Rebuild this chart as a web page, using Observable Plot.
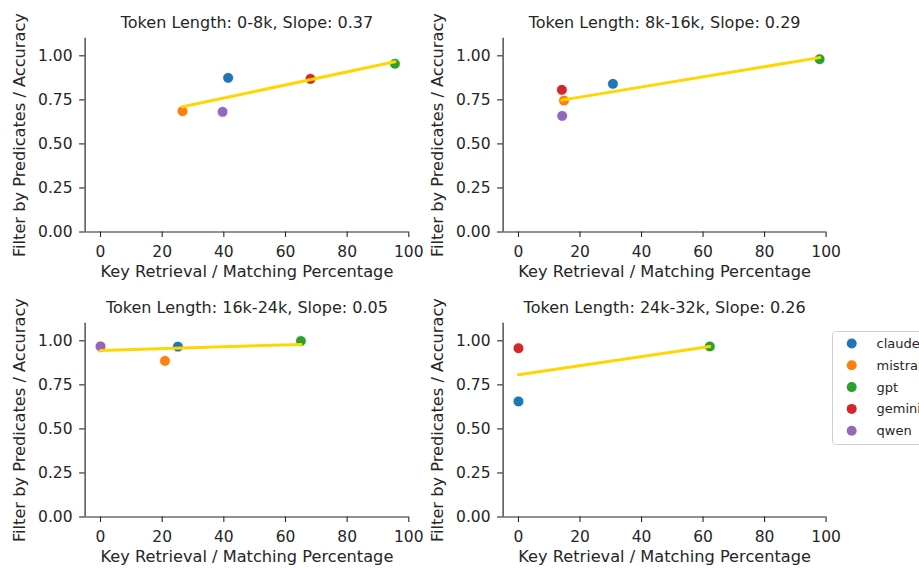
<!DOCTYPE html>
<html>
<head>
<meta charset="utf-8">
<script src="https://cdn.jsdelivr.net/npm/d3@7"></script>
<script src="https://cdn.jsdelivr.net/npm/@observablehq/plot@0.6"></script>
<style>
  html, body { margin: 0; padding: 0; background: #fff; }
  #chart { position: relative; width: 919px; height: 568px; overflow: hidden; font-family: "DejaVu Sans", sans-serif; }
  #chart > svg { position: absolute; }
</style>
</head>
<body>
<div id="chart"></div>
<script>
// Models (hue order) and their colours
const models = ["claude", "mistral", "gpt", "gemini", "qwen"];
const modelColors = ["#1f77b4", "#ff7f0e", "#2ca02c", "#d62728", "#9467bd"];

// Token-length buckets, one panel each
const buckets = ["0-8k", "8k-16k", "16k-24k", "24k-32k"];

// Key retrieval / matching percentage per bucket (model order as above; null = no result)
const keyRetrieval0 = [41.4, 26.6, 95.5, 68.1, 39.6];
const keyRetrieval1 = [30.7, 14.8, 97.9, 14.1, 14.2];
const keyRetrieval2 = [25.1, 20.9, 65.0, 0, 0];
const keyRetrieval3 = [0, null, 62.2, 0, null];

// Filter-by-predicates accuracy per bucket
const accuracy0 = [0.875, 0.686, 0.955, 0.869, 0.682];
const accuracy1 = [0.841, 0.746, 0.981, 0.807, 0.659];
const accuracy2 = [0.967, 0.886, 0.999, 0.965, 0.969];
const accuracy3 = [0.656, null, 0.968, 0.958, null];

// Axis ticks
const xTicks = [0, 20, 40, 60, 80, 100];
const yTicks = [0, 0.25, 0.5, 0.75, 1.0];

const xLabel = "Key Retrieval / Matching Percentage";
const yLabel = "Filter by Predicates / Accuracy";

const keyRetrieval = [keyRetrieval0, keyRetrieval1, keyRetrieval2, keyRetrieval3];
const accuracy = [accuracy0, accuracy1, accuracy2, accuracy3];

const ink = "#262626";
const panelW = 420, panelH = 286;
const frameLeft = 84.6, frameTop = 37.7, frameBottom = 54.5;
const frameWidths = [323.7, 323, 323.7, 323];
const panelPos = [[0, 0], [417.7, 0], [0, 285.2], [417.7, 285.2]];

// least-squares slope of accuracy against retrieval expressed as a fraction
function slopeOf(rows) {
  const mx = d3.mean(rows, d => d.x / 100), my = d3.mean(rows, d => d.y);
  const sxy = d3.sum(rows, d => (d.x / 100 - mx) * (d.y - my));
  const sxx = d3.sum(rows, d => (d.x / 100 - mx) ** 2);
  return sxy / sxx;
}

function panel(i) {
  const rows = models
    .map((m, j) => ({model: m, x: keyRetrieval[i][j], y: accuracy[i][j]}))
    .filter(d => d.x != null && d.y != null);
  const title = `Token Length: ${buckets[i]}, Slope: ${slopeOf(rows).toFixed(2)}`;
  const fw = frameWidths[i];
  return Plot.plot({
    width: panelW,
    height: panelH,
    marginLeft: frameLeft,
    marginRight: panelW - frameLeft - fw,
    marginTop: frameTop,
    marginBottom: frameBottom,
    style: {fontFamily: "DejaVu Sans", color: ink, background: "transparent", overflow: "visible"},
    x: {domain: [-5, 100]},
    y: {domain: [0, 1.1]},
    color: {domain: models, range: modelColors},
    marks: [
      Plot.axisX(xTicks, {tickSize: 5.5, tickPadding: 8.5, fontSize: 15.5, label: null, stroke: ink, strokeWidth: 1.1, fill: ink}),
      Plot.axisY(yTicks, {tickSize: 5.5, tickPadding: 7, fontSize: 15.5, label: null, tickFormat: d3.format(".2f"), stroke: ink, strokeWidth: 1.1, fill: ink}),
      Plot.ruleX([-5], {stroke: ink, strokeWidth: 1.2}),
      Plot.ruleY([0], {stroke: ink, strokeWidth: 1.2}),
      Plot.dot(rows, {x: "x", y: "y", fill: "model", r: 5.4, stroke: "white", strokeWidth: 0.8}),
      Plot.linearRegressionY(rows, {x: "x", y: "y", stroke: "#ffd700", strokeWidth: 3, ci: 0}),
      Plot.text([title], {text: d => d, frameAnchor: "top", dy: -15.7, fontSize: 16, lineAnchor: "middle", textAnchor: "middle", fill: ink}),
      Plot.text([xLabel], {text: d => d, frameAnchor: "bottom", dy: 40, fontSize: 16.2, lineAnchor: "middle", textAnchor: "middle", fill: ink}),
      Plot.text([yLabel], {text: d => d, frameAnchor: "left", dx: -64.9, rotate: -90, fontSize: 16.2, lineAnchor: "middle", textAnchor: "middle", fill: ink})
    ]
  });
}

const chart = document.getElementById("chart");
buckets.forEach((b, i) => {
  const svg = panel(i);
  svg.style.left = panelPos[i][0] + "px";
  svg.style.top = panelPos[i][1] + "px";
  chart.appendChild(svg);
});

// Legend to the right of the lower-right panel
const legend = d3.create("svg")
  .attr("width", 100)
  .attr("height", 120)
  .style("left", "832px")
  .style("top", "330.5px");
legend.append("rect")
  .attr("x", 0.5).attr("y", 0.5)
  .attr("width", 110).attr("height", 113)
  .attr("rx", 3)
  .attr("fill", "white")
  .attr("stroke", "#d0d0d0");
const item = legend.selectAll("g")
  .data(models)
  .join("g")
  .attr("transform", (d, i) => `translate(0,${12.5 + i * 21.8})`);
item.append("circle")
  .attr("cx", 19.7).attr("r", 5)
  .attr("fill", (d, i) => modelColors[i]);
item.append("text")
  .attr("x", 44.5)
  .attr("dy", "0.35em")
  .attr("font-family", "DejaVu Sans")
  .attr("font-size", 13)
  .attr("fill", ink)
  .text(d => d);
chart.appendChild(legend.node());
</script>
</body>
</html>
